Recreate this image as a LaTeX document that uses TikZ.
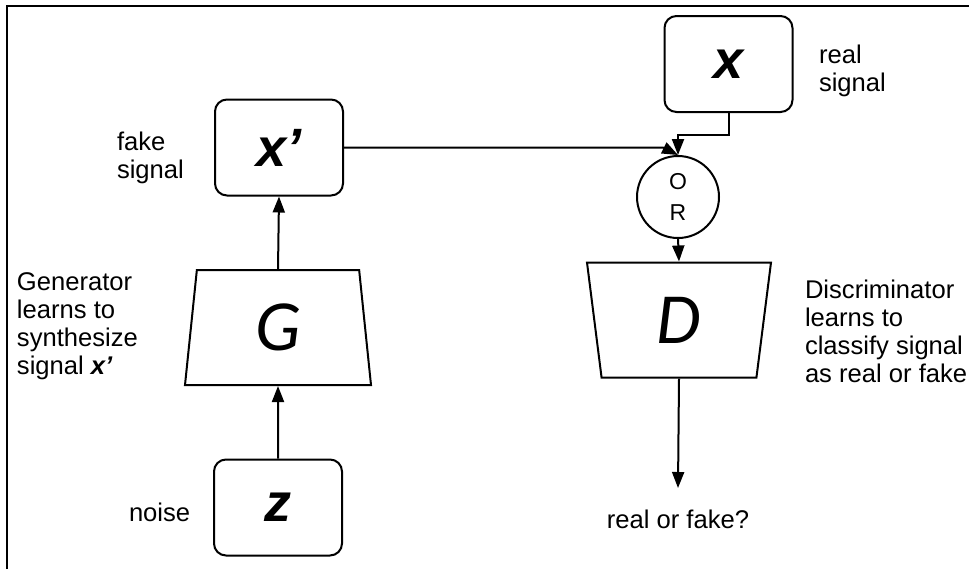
\documentclass[tikz,border=0pt]{standalone}
\usepackage{fontspec}
\setmainfont{Liberation Sans}
\newfontfamily\ganletter{Carlito}
\usepackage{xcolor}
\usepackage{tikz}
\usetikzlibrary{shapes.geometric,arrows.meta,positioning}
\definecolor{ganink}{HTML}{000000}

\begin{document}
\begin{tikzpicture}[
  x=0.5pt, y=-0.5pt,
  line width=1pt, draw=ganink,
  sig/.style={draw=ganink, rounded corners=6pt, line width=1pt, minimum width=64pt, minimum height=48pt, inner sep=0pt, font=\fontsize{27}{27}\selectfont\bfseries\itshape},
  net/.style={draw=ganink, trapezium, trapezium stretches body=true, line width=1pt, minimum height=57.5pt, inner sep=0pt, font=\ganletter\fontsize{36}{36}\selectfont\itshape},
  gate/.style={draw=ganink, circle, line width=1pt, minimum size=41pt, inner sep=0pt, align=center, font=\fontsize{11.5}{15.5}\selectfont},
  lbl/.style={font=\fontsize{12.8}{14}\selectfont, align=left, anchor=west, inner sep=0pt},
  >={Triangle[length=8pt,width=6pt]}
]
\useasboundingbox (0,0) rectangle (969,569);
\draw (7,569) -- (7,6) -- (969,6);

% generator side
\node[sig] (z) at (278,507.5) {z};
\node[net, minimum width=93pt, trapezium angle=75.9] (gen) at (278,327.5) {G};
\node[sig] (xp) at (279,147.5) {x’};

% discriminator side
\node[sig] (xr) at (728.5,64) {x};
\node[gate] (or) at (678,197) {O\\R};
\node[net, minimum width=92pt, trapezium angle=72.5, shape border rotate=180] (dis) at (679,320) {D};
\coordinate (fakebend) at (663,147.5);
\coordinate (realbend) at (728.5,135);
\coordinate (verdict) at (678,488);

% labels
\node[lbl] (fakelbl) at (116,158) {fake\\signal};
\node[lbl] (reallbl) at (818,71) {real\\signal};
\node[lbl] (genlbl) at (16,326) {Generator\\learns to\\synthesize\\signal \textbf{\textit{x’}}};
\node[lbl] (noiselbl) at (128,512) {noise};
\node[lbl] (dislbl) at (804,331) {Discriminator\\learns to\\classify signal\\as real or fake};
\node[font=\fontsize{12.8}{14}\selectfont, below=7pt of verdict] (verdictlbl) {real or fake?};

\draw[->] (z.north) -- (gen.south);
\draw[->] (gen.north) -- (xp.south);
\draw[->] (xp.east) -- (fakebend) -- (or.north);
\draw[->] (xr.south) -- (realbend) -| (or.north);
\draw[->] (or.south) -- (dis.north);
\draw[->] (dis.south) -- (verdict);

\end{tikzpicture}
\end{document}
